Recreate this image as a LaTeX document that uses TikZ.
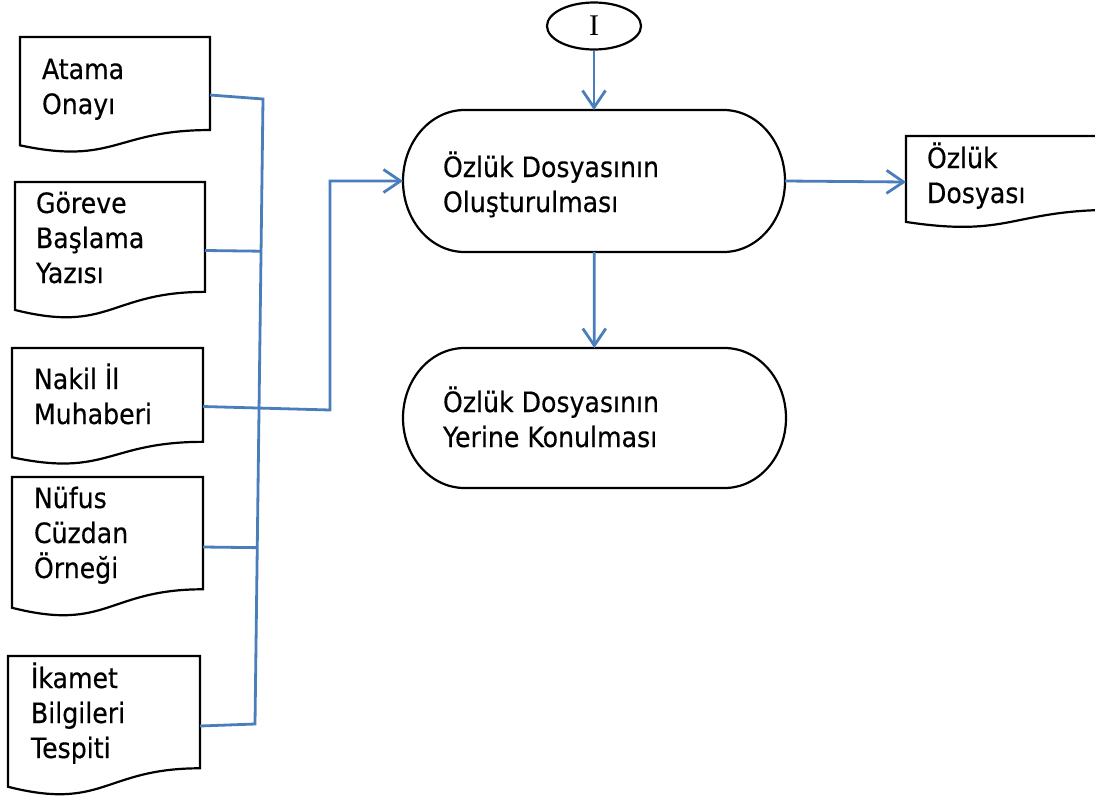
\documentclass[tikz,border=0pt]{standalone}
\usepackage{fontspec}
\setmainfont[FakeStretch=0.9,FakeBold=0.4]{DejaVu Sans}
\newfontfamily\serifI{Liberation Serif}
\usetikzlibrary{calc,arrows.meta,shapes.geometric}
\definecolor{linkblue}{HTML}{4A7EBB}
\newcommand\dbox[5]{\parbox[c][#2pt][t]{#1pt}{\raggedright\leftskip=#3pt\fontsize{28}{35}\selectfont\rule{0pt}{#4pt}#5}}
\newcommand\docoutline[1]{%
  \draw[blk] (#1.north west) -- (#1.north east) -- ($(#1.north east)!0.802!(#1.south east)$)
  .. controls ($(#1.north)!0.802!(#1.south)$) and ($(#1.north)!1.1075!(#1.south)$) ..
  ($(#1.north west)!0.934!(#1.south west)$) -- cycle;}
% #1 node name, #2 half height
\newcommand\termoutline[2]{%
  \draw[blk] ($(#1.north west)+(61.5,0)$) -- ($(#1.north east)+(-61.5,0)$)
  arc[start angle=90, end angle=-90, x radius=61.5, y radius=#2]
  -- ($(#1.south west)+(61.5,0)$)
  arc[start angle=270, end angle=90, x radius=61.5, y radius=#2] -- cycle;}
\tikzset{
  holder/.style={inner sep=0pt, outer sep=0pt, anchor=north west},
  blk/.style={draw=black, line width=2.2pt},
  conn/.style={draw=linkblue, line width=2.8pt},
  arr/.style={conn, -{Straight Barb[length=17pt,width=23pt,line width=2.8pt]}},
}
\begin{document}
\begin{tikzpicture}[x=1pt,y=1pt]
\useasboundingbox (0,0) rectangle (1095,-798);
% documents
\node[holder] (atama) at (20,-37) {\dbox{190}{116}{22}{42}{Atama\\Onayı}};
\docoutline{atama}
\node[holder] (goreve) at (15,-182) {\dbox{190}{137}{21}{31}{Göreve\\Başlama\\Yazısı}};
\docoutline{goreve}
\node[holder] (nakil) at (12,-348) {\dbox{191}{117}{22}{41}{Nakil İl\\Muhaberi}};
\docoutline{nakil}
\node[holder] (nufus) at (12,-477) {\dbox{191}{140}{22}{31}{Nüfus\\Cüzdan\\Örneği}};
\docoutline{nufus}
\node[holder] (ikamet) at (8,-656) {\dbox{192}{140}{23}{32}{İkamet\\Bilgileri\\Tespiti}};
\docoutline{ikamet}
\node[holder] (ozdoc) at (906,-136) {\dbox{210}{92}{21}{32}{Özlük\\Dosyası}};
\docoutline{ozdoc}
% connector circle
\node[ellipse, draw=black, line width=2.2pt, minimum width=94pt, minimum height=47pt, inner sep=0pt] (circ) at (594,-26) {\serifI\fontsize{30}{30}\selectfont I};
% terminators
\node[holder] (t1) at (403,-110) {\dbox{382}{142}{40}{67}{Özlük Dosyasının\\Oluşturulması}};
\termoutline{t1}{71}
\node[holder] (t2) at (403,-348) {\dbox{383}{140}{40}{64}{Özlük Dosyasının\\Yerine Konulması}};
\termoutline{t2}{70}
% bus
\coordinate (b1) at (263,-99);
\coordinate (b5) at (255,-724);
\coordinate (nk) at (330,-410);
\draw[conn] (atama.east) -- (b1) -- (b5) -- (ikamet.east);
\draw[conn] (goreve.east) -- ($(b1)!(goreve.east)!(b5)$);
\draw[conn] (nufus.east) -- ($(b1)!(nufus.east)!(b5)$);
\draw[arr] (nakil.east) -- (nk) |- (t1.west);
\draw[arr] (circ) -- (t1);
\draw[arr] (t1) -- (t2);
\draw[arr] (t1.east) -- (ozdoc.west);
\end{tikzpicture}
\end{document}
